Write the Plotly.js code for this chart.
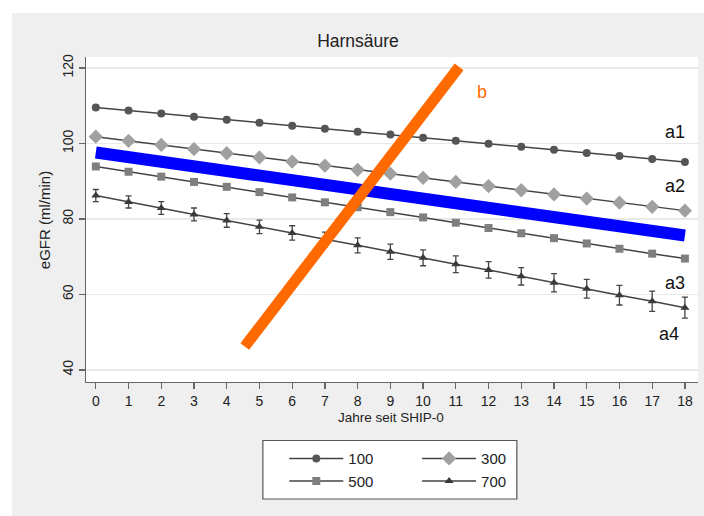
<!DOCTYPE html>
<html>
<head>
<meta charset="utf-8">
<script src="https://cdn.plot.ly/plotly-3.0.1.min.js"></script>
<style>
html,body{margin:0;padding:0;background:#ffffff;width:704px;height:516px;overflow:hidden;}
#chart{position:absolute;left:12px;top:13px;width:692px;height:503px;}
</style>
</head>
<body>
<div id="chart"></div>
<script>
const years = [0,1,2,3,4,5,6,7,8,9,10,11,12,13,14,15,16,17,18];
const s100 = [109.5,108.7,107.9,107.1,106.3,105.5,104.7,103.9,103.1,102.4,101.5,100.7,99.9,99.1,98.3,97.5,96.7,95.9,95.1];
const s300 = [101.8,100.7,99.6,98.5,97.4,96.3,95.2,94.1,93.0,92.0,90.9,89.8,88.7,87.6,86.5,85.4,84.3,83.2,82.2];
const s500 = [93.9,92.5,91.2,89.8,88.5,87.1,85.7,84.4,83.1,81.8,80.4,79.0,77.6,76.2,74.9,73.5,72.1,70.8,69.5];
const s700 = [86.2,84.5,82.9,81.2,79.6,77.9,76.3,74.6,73.0,71.3,69.7,68.0,66.5,64.8,63.1,61.5,59.8,58.2,56.5];
const s700err = [1.6,1.6,1.7,1.7,1.8,1.8,1.9,1.9,2.0,2.0,2.1,2.2,2.2,2.3,2.4,2.5,2.6,2.7,2.8];
const seriesNames = ["100","300","500","700"];
const blueX = [0,18], blueY = [97.6,75.6];
const orangeX = [4.55,11.1], orangeY = [46.2,120.3];
const labelText = ["a1","a2","a3","a4","b"];
const labelX = [17.7,17.7,17.7,17.5,11.8];
const labelY = [102.9,88.8,63.1,49.6,113.5];
const yTicks = [40,60,80,100,120];
const xTitle = "Jahre seit SHIP-0";
const yTitle = "eGFR (ml/min)";
const chartTitle = "Harnsäure";

const font = "Liberation Sans, Arial, sans-serif";
const lineCol = "#444444";

const traces = [
  {x: blueX, y: blueY, mode:"lines", line:{color:"#0000ff", width:12}, showlegend:false, hoverinfo:"skip"},
  {x: years, y: s100, name: seriesNames[0], mode:"lines+markers", line:{color:lineCol, width:1.5},
   marker:{symbol:"circle", size:8, color:"#555555"}, legend:"legend"},
  {x: years, y: s300, name: seriesNames[1], mode:"lines+markers", line:{color:lineCol, width:1.5},
   marker:{symbol:"diamond", size:11, color:"#a0a0a0"}, legend:"legend2"},
  {x: years, y: s500, name: seriesNames[2], mode:"lines+markers", line:{color:lineCol, width:1.5},
   marker:{symbol:"square", size:8, color:"#7f7f7f"}, legend:"legend"},
  {x: years, y: s700, name: seriesNames[3], mode:"lines+markers", line:{color:lineCol, width:1.5},
   marker:{symbol:"triangle-up", size:8, color:"#3a3a3a"},
   error_y:{type:"data", array:s700err, visible:true, color:"#444444", thickness:1.3, width:3},
   legend:"legend2"},
  {x: orangeX, y: orangeY, mode:"lines", line:{color:"#ff6a00", width:11}, showlegend:false, hoverinfo:"skip"}
];

const annotations = labelText.map((t,i)=>({
  x: labelX[i], y: labelY[i], xref:"x", yref:"y", text:t, showarrow:false,
  font:{family:font, size:18, color: t==="b" ? "#ff6a00" : "#111111"}
}));
annotations.push({x:-0.0686, y:0.498, xref:"paper", yref:"paper", text:yTitle, textangle:-90,
  showarrow:false, xanchor:"center", yanchor:"middle", font:{family:font, size:15, color:"#222222"}});
annotations.push({x:0.498, y:-0.11, xref:"paper", yref:"paper", text:xTitle,
  showarrow:false, xanchor:"center", yanchor:"middle", font:{family:font, size:13.5, color:"#222222"}});

const layout = {
  width: 692, height: 503,
  paper_bgcolor:"#efefef", plot_bgcolor:"#ffffff",
  margin:{l:74, r:6, t:44, b:134},
  title:{text:chartTitle, font:{family:font, size:17.5, color:"#222222"}, x:0.5, xanchor:"center", y:0.945, yanchor:"middle"},
  xaxis:{
    range:[-0.3,18.4], tickmode:"array", tickvals:years, ticktext:years.map(String),
    ticks:"outside", ticklen:6, tickwidth:1.2, tickcolor:"#666666",
    showline:true, linecolor:"#666666", linewidth:1.2, showgrid:false, zeroline:false,
    tickfont:{family:font, size:14, color:"#222222"}
  },
  yaxis:{
    range:[36.8,122.9], tickmode:"array", tickvals:yTicks, ticktext:yTicks.map(String),
    ticks:"outside", ticklen:6, tickwidth:1.2, tickcolor:"#666666", tickangle:-90,
    showline:true, linecolor:"#666666", linewidth:1.2,
    showgrid:true, gridcolor:"#e9e9e9", gridwidth:1.5, zeroline:false,
    tickfont:{family:font, size:14, color:"#222222"}
  },
  legend:{x:0.324, y:-0.185, xref:"paper", yref:"paper", xanchor:"left", yanchor:"top",
    orientation:"v", bgcolor:"rgba(0,0,0,0)", font:{family:font, size:15, color:"#222222"}, tracegroupgap:0, itemwidth:54},
  legend2:{x:0.541, y:-0.185, xref:"paper", yref:"paper", xanchor:"left", yanchor:"top",
    orientation:"v", bgcolor:"rgba(0,0,0,0)", font:{family:font, size:15, color:"#222222"}, tracegroupgap:0, itemwidth:54},
  shapes:[
    {type:"rect", xref:"paper", yref:"paper", x0:0.289, x1:0.704, y0:-0.18, y1:-0.36,
     line:{color:"#555555", width:1.2}, fillcolor:"#ffffff", layer:"below"}
  ],
  annotations: annotations
};

Plotly.newPlot("chart", traces, layout, {displayModeBar:false, staticPlot:true});
</script>
</body>
</html>
